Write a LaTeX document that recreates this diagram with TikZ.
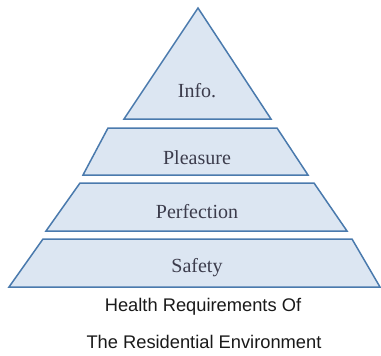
\documentclass[tikz,border=0pt]{standalone}
\usepackage{fontspec}
\setmainfont{Liberation Serif}
\setsansfont{Liberation Sans}
\definecolor{layerfill}{HTML}{DCE6F2}
\definecolor{layerline}{HTML}{4A7AAD}
\definecolor{labeltext}{HTML}{3C3C4C}
\begin{document}
\begin{tikzpicture}[x=1pt,y=-1pt,
  layer/.style={fill=layerfill,draw=layerline,line width=1.5pt,line join=miter},
  lvl/.style={font=\rmfamily\fontsize{20}{24}\selectfont,text=labeltext,anchor=base,inner sep=0pt},
  captext/.style={font=\sffamily\fontsize{18.3}{22}\selectfont,text=black!90,anchor=base,inner sep=0pt}]
\useasboundingbox (0,0) rectangle (381,356);
\draw[layer] (198,8) -- (271,119) -- (124,119) -- cycle;
\draw[layer] (108,128) -- (277,128) -- (308,175) -- (83,175) -- cycle;
\draw[layer] (80,183) -- (314,183) -- (347,231) -- (46,231) -- cycle;
\draw[layer] (43,239) -- (352,239) -- (380,287) -- (9,287) -- cycle;
\node[lvl] (info) at (197,97) {Info.};
\node[lvl] (pleasure) at (197,164) {Pleasure};
\node[lvl] (perfection) at (197,218) {Perfection};
\node[lvl] (safety) at (197,272) {Safety};
\node[captext] (cap1) at (203,311) {Health Requirements Of};
\node[captext] (cap2) at (204,348) {The Residential Environment};
\end{tikzpicture}
\end{document}
